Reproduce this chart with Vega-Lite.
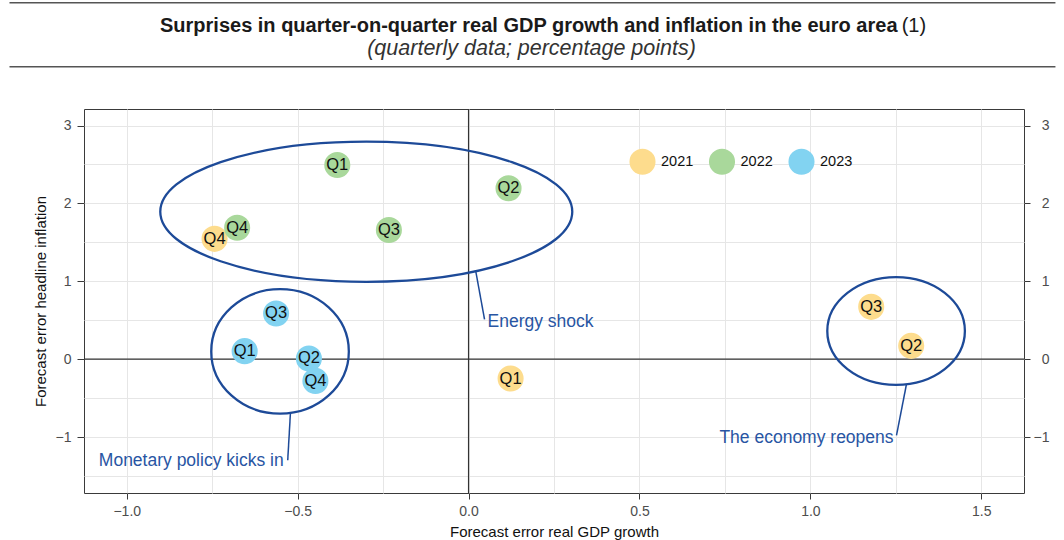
{
  "$schema": "https://vega.github.io/schema/vega-lite/v6.json",
  "width": 940,
  "height": 384,
  "autosize": {"type": "none"},
  "padding": {"left": 84, "top": 109, "right": 40, "bottom": 47},
  "background": "#ffffff",
  "config": {
    "font": "Liberation Sans",
    "view": {"stroke": "#3a3a3a", "strokeWidth": 1}
  },
  "datasets": {
    "pts": [
      {"year": "2021", "quarter": "Q1", "gdp": 0.123, "infl": -0.248},
      {"year": "2021", "quarter": "Q2", "gdp": 1.295, "infl": 0.171},
      {"year": "2021", "quarter": "Q3", "gdp": 1.178, "infl": 0.672},
      {"year": "2021", "quarter": "Q4", "gdp": -0.743, "infl": 1.545},
      {"year": "2022", "quarter": "Q1", "gdp": -0.384, "infl": 2.494},
      {"year": "2022", "quarter": "Q2", "gdp": 0.117, "infl": 2.194},
      {"year": "2022", "quarter": "Q3", "gdp": -0.233, "infl": 1.658},
      {"year": "2022", "quarter": "Q4", "gdp": -0.677, "infl": 1.688},
      {"year": "2023", "quarter": "Q1", "gdp": -0.655, "infl": 0.103},
      {"year": "2023", "quarter": "Q2", "gdp": -0.467, "infl": 0.009},
      {"year": "2023", "quarter": "Q3", "gdp": -0.563, "infl": 0.587},
      {"year": "2023", "quarter": "Q4", "gdp": -0.448, "infl": -0.279}
    ],
    "notes": [
      {"note": "Energy shock", "x1": 0.0205, "y1": 1.144, "x2": 0.0468, "y2": 0.51, "tx": 0.0556, "ty": 0.415},
      {"note": "Monetary policy kicks in", "x1": -0.521, "y1": -0.685, "x2": -0.529, "y2": -1.298, "tx": -0.541, "ty": -1.375},
      {"note": "The economy reopens", "x1": 1.281, "y1": -0.325, "x2": 1.252, "y2": -0.977, "tx": 1.2434, "ty": -1.071}
    ]
  },
  "resolve": {"axis": {"x": "independent", "y": "independent"}},
  "layer": [
    {
      "data": {"values": [{}]},
      "mark": {"type": "rule", "color": "#333333", "strokeWidth": 1.2},
      "encoding": {
        "x": {
          "datum": 0, "type": "quantitative",
          "scale": {"domain": [-1.125, 1.625], "nice": false, "zero": false},
          "axis": {
            "orient": "bottom", "title": null,
            "values": [-1, -0.75, -0.5, -0.25, 0, 0.25, 0.5, 0.75, 1, 1.25, 1.5],
            "grid": true, "gridColor": "#e6e6e6", "gridWidth": 1,
            "labels": false, "ticks": false, "domain": false
          }
        }
      }
    },
    {
      "data": {"values": [{}]},
      "mark": {"type": "rule", "color": "#333333", "strokeWidth": 1.2},
      "encoding": {
        "y": {
          "datum": 0, "type": "quantitative",
          "scale": {"domain": [-1.718, 3.212], "nice": false, "zero": false},
          "axis": {
            "orient": "left", "title": null,
            "values": [-1.5, -1, -0.5, 0, 0.5, 1, 1.5, 2, 2.5, 3],
            "grid": true, "gridColor": "#e6e6e6", "gridWidth": 1,
            "labels": false, "ticks": false, "domain": false
          }
        }
      }
    },
    {
      "data": {"values": [{}]},
      "mark": {"type": "rule", "color": "#555555", "strokeWidth": 1.5},
      "encoding": {
        "x": {"datum": -1.343, "type": "quantitative", "scale": {"domain": [-1.125, 1.625], "nice": false, "zero": false}, "axis": null},
        "x2": {"datum": 1.717},
        "y": {"datum": 4.576, "type": "quantitative", "scale": {"domain": [-1.718, 3.212], "nice": false, "zero": false}, "axis": null}
      }
    },
    {
      "data": {"values": [{}]},
      "mark": {"type": "rule", "color": "#555555", "strokeWidth": 1.5},
      "encoding": {
        "x": {"datum": -1.343, "type": "quantitative", "scale": {"domain": [-1.125, 1.625], "nice": false, "zero": false}, "axis": null},
        "x2": {"datum": 1.717},
        "y": {"datum": 3.753, "type": "quantitative", "scale": {"domain": [-1.718, 3.212], "nice": false, "zero": false}, "axis": null}
      }
    },
    {
      "data": {"values": [{"t": "Surprises in quarter-on-quarter real GDP growth and inflation in the euro area"}]},
      "mark": {"type": "text", "align": "right", "baseline": "middle", "fontSize": 20, "fontWeight": "bold", "color": "#1a1a1a"},
      "encoding": {
        "text": {"field": "t"},
        "x": {"datum": 1.255, "type": "quantitative", "scale": {"domain": [-1.125, 1.625], "nice": false, "zero": false}, "axis": null},
        "y": {"datum": 4.28, "type": "quantitative", "scale": {"domain": [-1.718, 3.212], "nice": false, "zero": false}, "axis": null}
      }
    },
    {
      "data": {"values": [{"t": "(1)"}]},
      "mark": {"type": "text", "align": "left", "baseline": "middle", "fontSize": 20, "color": "#1a1a1a"},
      "encoding": {
        "text": {"field": "t"},
        "x": {"datum": 1.267, "type": "quantitative", "scale": {"domain": [-1.125, 1.625], "nice": false, "zero": false}, "axis": null},
        "y": {"datum": 4.28, "type": "quantitative", "scale": {"domain": [-1.718, 3.212], "nice": false, "zero": false}, "axis": null}
      }
    },
    {
      "data": {"values": [{"t": "(quarterly data; percentage points)"}]},
      "mark": {"type": "text", "align": "center", "baseline": "middle", "fontSize": 21.5, "fontStyle": "italic", "color": "#333333"},
      "encoding": {
        "text": {"field": "t"},
        "x": {"datum": 0.1843, "type": "quantitative", "scale": {"domain": [-1.125, 1.625], "nice": false, "zero": false}, "axis": null},
        "y": {"datum": 3.98, "type": "quantitative", "scale": {"domain": [-1.718, 3.212], "nice": false, "zero": false}, "axis": null}
      }
    },
    {
      "data": {"values": [{"group": "Energy shock"}]},
      "mark": {"type": "point", "filled": false, "stroke": "#1d4a98", "strokeWidth": 2.3, "opacity": 1, "size": 169744,
        "shape": "M -1 0 C -1 -0.1878 -0.5523 -0.34 0 -0.34 C 0.5523 -0.34 1 -0.1878 1 0 C 1 0.1878 0.5523 0.34 0 0.34 C -0.5523 0.34 -1 0.1878 -1 0 Z"},
      "encoding": {
        "x": {"datum": -0.2992, "type": "quantitative", "scale": {"domain": [-1.125, 1.625], "nice": false, "zero": false}, "axis": null},
        "y": {"datum": 1.893, "type": "quantitative", "scale": {"domain": [-1.718, 3.212], "nice": false, "zero": false}, "axis": null}
      }
    },
    {
      "data": {"values": [{"group": "Monetary policy kicks in"}]},
      "mark": {"type": "point", "filled": false, "stroke": "#1d4a98", "strokeWidth": 2.3, "opacity": 1, "size": 18934,
        "shape": "M -1 0 C -1 -0.4993 -0.5523 -0.904 0 -0.904 C 0.5523 -0.904 1 -0.4993 1 0 C 1 0.4993 0.5523 0.904 0 0.904 C -0.5523 0.904 -1 0.4993 -1 0 Z"},
      "encoding": {
        "x": {"datum": -0.5515, "type": "quantitative", "scale": {"domain": [-1.125, 1.625], "nice": false, "zero": false}, "axis": null},
        "y": {"datum": 0.1, "type": "quantitative", "scale": {"domain": [-1.718, 3.212], "nice": false, "zero": false}, "axis": null}
      }
    },
    {
      "data": {"values": [{"group": "The economy reopens"}]},
      "mark": {"type": "point", "filled": false, "stroke": "#1d4a98", "strokeWidth": 2.3, "opacity": 1, "size": 18934,
        "shape": "M -1 0 C -1 -0.4326 -0.5523 -0.783 0 -0.783 C 0.5523 -0.783 1 -0.4326 1 0 C 1 0.4326 0.5523 0.783 0 0.783 C -0.5523 0.783 -1 0.4326 -1 0 Z"},
      "encoding": {
        "x": {"datum": 1.2508, "type": "quantitative", "scale": {"domain": [-1.125, 1.625], "nice": false, "zero": false}, "axis": null},
        "y": {"datum": 0.362, "type": "quantitative", "scale": {"domain": [-1.718, 3.212], "nice": false, "zero": false}, "axis": null}
      }
    },
    {
      "data": {"name": "notes"},
      "mark": {"type": "rule", "color": "#1d4a98", "strokeWidth": 1.5},
      "encoding": {
        "x": {"field": "x1", "type": "quantitative", "scale": {"domain": [-1.125, 1.625], "nice": false, "zero": false}, "axis": null},
        "y": {"field": "y1", "type": "quantitative", "scale": {"domain": [-1.718, 3.212], "nice": false, "zero": false}, "axis": null},
        "x2": {"field": "x2"},
        "y2": {"field": "y2"}
      }
    },
    {
      "data": {"name": "notes"},
      "transform": [{"filter": "datum.note === 'Energy shock'"}],
      "mark": {"type": "text", "align": "left", "baseline": "alphabetic", "fontSize": 17.5, "color": "#2855a3"},
      "encoding": {
        "text": {"field": "note"},
        "x": {"field": "tx", "type": "quantitative", "scale": {"domain": [-1.125, 1.625], "nice": false, "zero": false}, "axis": null},
        "y": {"field": "ty", "type": "quantitative", "scale": {"domain": [-1.718, 3.212], "nice": false, "zero": false}, "axis": null}
      }
    },
    {
      "data": {"name": "notes"},
      "transform": [{"filter": "datum.note !== 'Energy shock'"}],
      "mark": {"type": "text", "align": "right", "baseline": "alphabetic", "fontSize": 17.5, "color": "#2855a3"},
      "encoding": {
        "text": {"field": "note"},
        "x": {"field": "tx", "type": "quantitative", "scale": {"domain": [-1.125, 1.625], "nice": false, "zero": false}, "axis": null},
        "y": {"field": "ty", "type": "quantitative", "scale": {"domain": [-1.718, 3.212], "nice": false, "zero": false}, "axis": null}
      }
    },
    {
      "data": {"name": "pts"},
      "mark": {"type": "circle", "size": 680, "opacity": 1},
      "encoding": {
        "x": {
          "field": "gdp", "type": "quantitative",
          "scale": {"domain": [-1.125, 1.625], "nice": false, "zero": false},
          "axis": {
            "orient": "bottom",
            "title": "Forecast error real GDP growth",
            "values": [-1, -0.5, 0, 0.5, 1, 1.5],
            "format": ".1f",
            "grid": false, "domain": false,
            "tickColor": "#3a3a3a", "tickSize": 6, "tickWidth": 1,
            "labelColor": "#4d4d4d", "labelFontSize": 14, "labelPadding": 5, "labelFlush": false,
            "titleFontSize": 15, "titleFontWeight": "normal", "titleColor": "#111111", "titlePadding": 6
          }
        },
        "y": {
          "field": "infl", "type": "quantitative",
          "scale": {"domain": [-1.718, 3.212], "nice": false, "zero": false},
          "axis": {
            "orient": "left",
            "title": "Forecast error headline inflation",
            "values": [-1, 0, 1, 2, 3],
            "format": "d",
            "grid": false, "domain": false,
            "tickColor": "#3a3a3a", "tickSize": 7, "tickWidth": 1,
            "labelColor": "#4d4d4d", "labelFontSize": 14, "labelPadding": 6, "labelFlush": false,
            "titleFontSize": 15, "titleFontWeight": "normal", "titleColor": "#111111", "titlePadding": 7
          }
        },
        "color": {
          "field": "year", "type": "nominal",
          "scale": {"domain": ["2021", "2022", "2023"], "range": ["#fddc8d", "#a9d89b", "#82d3f1"]},
          "legend": {
            "title": null, "orient": "none", "direction": "horizontal",
            "legendX": 545, "legendY": 39, "padding": 0,
            "symbolType": "circle", "symbolSize": 680, "symbolStrokeWidth": 0, "symbolOpacity": 1,
            "labelFontSize": 14.5, "labelColor": "#111111", "labelOffset": 5, "columnPadding": 14.5
          }
        }
      }
    },
    {
      "data": {"name": "pts"},
      "mark": {"type": "text", "fontSize": 16.5, "color": "#111111", "align": "center", "baseline": "middle"},
      "encoding": {
        "text": {"field": "quarter"},
        "x": {"field": "gdp", "type": "quantitative", "scale": {"domain": [-1.125, 1.625], "nice": false, "zero": false}, "axis": null},
        "y": {
          "field": "infl", "type": "quantitative",
          "scale": {"domain": [-1.718, 3.212], "nice": false, "zero": false},
          "axis": {
            "orient": "right", "title": null,
            "values": [-1, 0, 1, 2, 3], "format": "d",
            "grid": false, "domain": false,
            "tickColor": "#3a3a3a", "tickSize": 6, "tickWidth": 1,
            "labelColor": "#4d4d4d", "labelFontSize": 14, "labelAlign": "right", "labelPadding": 19, "labelFlush": false
          }
        }
      }
    }
  ]
}
